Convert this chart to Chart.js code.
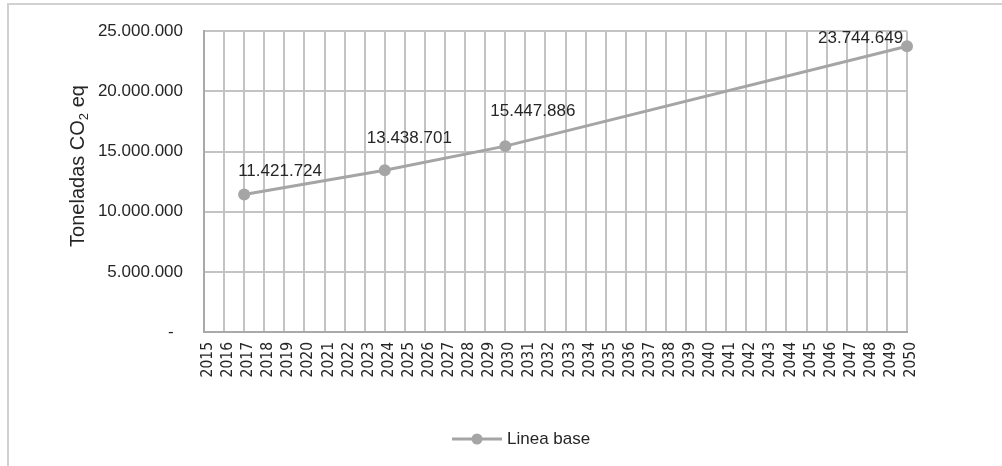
<!DOCTYPE html>
<html>
<head>
<meta charset="utf-8">
<script src="https://cdn.jsdelivr.net/npm/chart.js@4/dist/chart.umd.min.js"></script>
<style>
  html, body { margin: 0; padding: 0; background: #fff; overflow: hidden; }
  #wrap { position: relative; width: 1002px; height: 466px; }
  #frame { position: absolute; left: 7px; top: 3px; right: -4px; bottom: -4px;
           border-top: 2px solid #d2d2d2; border-left: 2px solid #d2d2d2; }
  #c { position: absolute; left: 0; top: 0; }
</style>
</head>
<body>
<div id="wrap">
  <div id="frame"></div>
  <canvas id="c" width="1002" height="466"></canvas>
</div>
<script>
// Years on the category axis
const years = [
  '2015','2016','2017','2018','2019','2020','2021','2022','2023','2024',
  '2025','2026','2027','2028','2029','2030','2031','2032','2033','2034',
  '2035','2036','2037','2038','2039','2040','2041','2042','2043','2044',
  '2045','2046','2047','2048','2049','2050'
];

// Baseline emissions (t CO2 eq); only the reported years carry a value
const baseline = [
  null, null, 11421724, null, null, null, null, null, null, 13438701,
  null, null, null, null, null, 15447886, null, null, null, null,
  null, null, null, null, null, null, null, null, null, null,
  null, null, null, null, null, 23744649
];

// Value axis ticks
const yTicks = [0, 5000000, 10000000, 15000000, 20000000, 25000000];

const seriesName = 'Linea base';
const axisTitle = ['Toneladas CO', '2', ' eq'];

// Where each value label sits relative to its point (left edge, vertical centre)
const labelOffsets = [[-6, -23], [-18, -32], [-15, -35], [-89, -8]];

const LINE_GREY = '#a5a5a5';
const TEXT = '#262626';
const SANS = '"Liberation Sans", Arial, sans-serif';
const NARROW = '"Liberation Sans Narrow", "DejaVu Sans Condensed", sans-serif';

const dotted = v => String(Math.round(v)).replace(/\B(?=(\d{3})+(?!\d))/g, '.');

const decorations = {
  id: 'decorations',
  afterDatasetsDraw(chart) {
    const { ctx } = chart;
    const meta = chart.getDatasetMeta(0);
    ctx.save();
    ctx.font = '17px ' + SANS;
    ctx.fillStyle = TEXT;
    ctx.textAlign = 'left';
    ctx.textBaseline = 'middle';
    let k = 0;
    meta.data.forEach((pt, i) => {
      const v = baseline[i];
      if (v == null) return;
      const [dx, dy] = labelOffsets[k++];
      ctx.fillText(dotted(v), pt.x + dx, pt.y + dy);
    });
    ctx.restore();
  },
  afterDraw(chart) {
    const { ctx } = chart;
    // vertical axis title with subscript
    ctx.save();
    ctx.fillStyle = TEXT;
    ctx.textBaseline = 'alphabetic';
    const big = '20px ' + SANS, small = '13px ' + SANS;
    ctx.font = big; const w1 = ctx.measureText(axisTitle[0]).width;
    ctx.font = small; const w2 = ctx.measureText(axisTitle[1]).width;
    ctx.font = big; const w3 = ctx.measureText(axisTitle[2]).width;
    const total = w1 + w2 + w3;
    ctx.translate(84, 166);
    ctx.rotate(-Math.PI / 2);
    let x = -total / 2;
    ctx.font = big; ctx.fillText(axisTitle[0], x, 0); x += w1;
    ctx.font = small; ctx.fillText(axisTitle[1], x, 4); x += w2;
    ctx.font = big; ctx.fillText(axisTitle[2], x, 0);
    ctx.restore();

    // legend entry: line with marker, then the series name
    const ds = chart.data.datasets[0];
    const ly = 439;
    ctx.save();
    ctx.strokeStyle = ds.borderColor;
    ctx.lineWidth = ds.borderWidth;
    ctx.beginPath(); ctx.moveTo(452, ly); ctx.lineTo(502, ly); ctx.stroke();
    ctx.fillStyle = ds.pointBackgroundColor;
    ctx.beginPath(); ctx.arc(477, ly, 5.5, 0, Math.PI * 2); ctx.fill();
    ctx.fillStyle = TEXT;
    ctx.font = '17px ' + SANS;
    ctx.textBaseline = 'middle';
    ctx.textAlign = 'left';
    ctx.fillText(ds.label, 507, ly);
    ctx.restore();
  }
};

new Chart(document.getElementById('c'), {
  type: 'line',
  data: {
    labels: years,
    datasets: [{
      label: seriesName,
      data: baseline,
      borderColor: LINE_GREY,
      backgroundColor: LINE_GREY,
      pointBackgroundColor: LINE_GREY,
      pointBorderColor: LINE_GREY,
      borderWidth: 3,
      pointRadius: 6,
      pointHoverRadius: 6,
      pointBorderWidth: 0,
      spanGaps: true,
      tension: 0
    }]
  },
  options: {
    responsive: false,
    animation: false,
    events: [],
    layout: { padding: { left: 8, top: 29.5, right: 95, bottom: 0 } },
    plugins: { legend: { display: false }, tooltip: { enabled: false } },
    scales: {
      x: {
        offset: false,
        grid: { color: '#c3c3c3', lineWidth: 2, drawTicks: false, offset: false },
        border: { color: '#a9a9a9', width: 2 },
        ticks: {
          autoSkip: false, minRotation: 90, maxRotation: 90,
          padding: 10, labelOffset: 4,
          color: TEXT, font: { family: NARROW, size: 15.5 }
        },
        afterFit(scale) { scale.height = 466 - 332; }
      },
      y: {
        min: 0, max: 25000000,
        afterBuildTicks(scale) { scale.ticks = yTicks.map(v => ({ value: v })); },
        grid: { color: '#c3c3c3', lineWidth: 2, drawTicks: false },
        border: { color: '#a9a9a9', width: 2 },
        ticks: {
          padding: 21, color: TEXT, font: { family: SANS, size: 17 },
          callback: v => (v === 0 ? '-  ' : dotted(v))
        },
        afterFit(scale) { scale.width = 204 - 8; }
      }
    }
  },
  plugins: [decorations]
});
</script>
</body>
</html>
